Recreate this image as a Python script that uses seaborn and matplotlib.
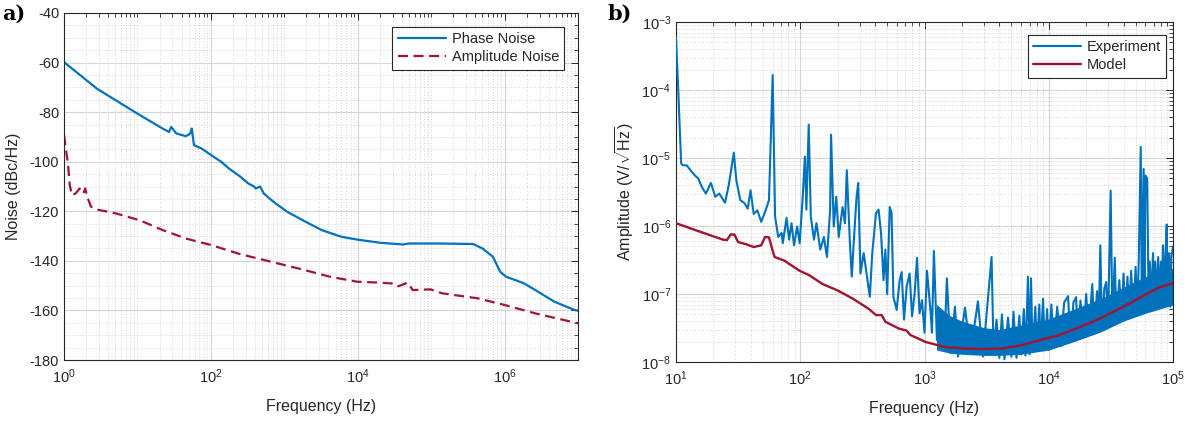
import numpy as np
import pandas as pd
import matplotlib
matplotlib.use("Agg")
import matplotlib.pyplot as plt
import seaborn as sns
from matplotlib.ticker import FixedLocator, LogLocator, MultipleLocator, FuncFormatter, NullFormatter

# ---------------- data ----------------
# Panel a) phase noise
phase_freq = [1, 2.8, 10, 22, 26.9, 28.8, 33.9, 45.7, 52.5, 55.0, 58.9, 75.0, 101.6, 138, 176, 251,
              324, 389, 407, 468, 525, 670, 759, 1096, 1778, 3236, 6026, 9772, 20180, 41690,
              50120, 125900, 371500, 501200, 691800, 871000, 1047000, 1820000, 2630000,
              4786000, 8913000, 10000000]
phase_db = [-59.8, -70.5, -80.6, -86.6, -88.0, -86.0, -88.6, -89.7, -88.6, -86.6, -93.3, -94.7,
            -97.4, -100.0, -102.7, -106.0, -108.8, -110.0, -110.8, -110.0, -112.8, -115.5, -116.8,
            -120.2, -123.6, -127.6, -130.3, -131.4, -132.7, -133.4, -133.0, -133.0, -133.2,
            -135.0, -138.3, -144.4, -146.4, -149.0, -151.8, -156.5, -159.8, -160.1]

# Panel a) amplitude noise
amp_freq = [1, 1.13, 1.2, 1.28, 1.44, 1.63, 1.84, 1.95, 2.07, 2.34, 2.81, 5.16, 10.7, 22.2, 45.7,
            100, 251, 670, 1778, 4169, 9772, 20180, 28840, 34670, 47860, 56230, 97720, 141300,
            426600, 1000000, 2630000, 10000000]
amp_db = [-89.3, -100.7, -109.5, -113.5, -112.8, -110.8, -112.8, -110.8, -114.2, -118.2, -119.3,
          -120.9, -123.6, -127.6, -131.0, -133.6, -137.3, -140.4, -143.5, -146.4, -148.4, -148.8,
          -149.1, -150.4, -148.8, -151.8, -151.5, -153.1, -155.1, -157.8, -161.2, -165.2]

# Panel b) experiment trace
exp_freq = [10, 10.4, 11.0, 11.35, 12.2, 13.1, 14.1, 15.1, 16.2, 17.4, 19.1, 20.7, 22.3, 24.8,
            26.6, 29.2, 30.6, 32.9, 35.3, 37.8, 39.8, 42.2, 45.2, 48.5, 52.1, 56.0, 60.0,
            62.7, 66.5, 70.8, 72.4, 77.6, 81.3, 85.1, 89.1, 94.4, 98.9, 104.7, 109, 112, 117,
            121.6, 129, 135, 145, 155, 164, 174, 177, 186, 195, 204, 219, 229, 237, 251, 260,
            269, 284, 293, 305, 324, 339, 363, 380, 407, 427, 447, 468, 484, 501, 525, 543,
            562, 597, 631, 655, 684, 719, 759, 794, 832, 871, 912, 955, 1000, 1047, 1122,
            1148, 1190, 1259, 1349, 1445, 1514, 1622, 1758, 1862, 2118, 2344, 2692, 2951,
            3467, 3600, 3800, 4000, 4200, 4400, 4700, 5000, 5200, 5500, 5800, 6000, 6300,
            6500, 6800, 7000, 7200, 7400, 7800, 8000, 8400, 8600, 9000, 9300, 9700, 10000,
            10500, 11000, 11700, 12500, 13300, 14300, 15000, 15800, 16600, 17200, 18000,
            19000, 20000, 21000, 22400, 23200, 24500, 25200, 26000, 26800, 28000, 29000,
            30000, 31500, 32500, 34000, 35000, 37000, 38500, 40000, 41500, 43000, 44500,
            46000, 48000, 50000, 51500, 53000, 55000, 56000, 58000, 59000, 60000, 62000,
            63500, 65000, 67000, 69000, 70500, 72000, 74000, 76000, 78000, 80000, 81500,
            83000, 85000, 87000, 89000, 90500, 93000, 95000, 97000, 100000]
exp_amp = [6.0e-4, 1.1e-4, 8.3e-6, 7.8e-6, 7.8e-6, 6.6e-6, 5.6e-6, 5.0e-6, 3.7e-6, 3.0e-6,
           4.3e-6, 2.7e-6, 3.0e-6, 2.2e-6, 4.0e-6, 1.2e-5, 4.7e-6, 2.4e-6, 2.2e-6, 1.8e-6,
           3.35e-6, 1.5e-6, 1.7e-6, 1.15e-6, 1.6e-6, 2.4e-6, 1.66e-4,
           1.38e-6, 6.9e-7, 7.9e-7, 5.6e-7, 1.32e-6, 6.3e-7, 1.1e-6, 5.2e-7, 9.8e-7, 5.6e-7,
           2.7e-6, 1.05e-5, 1.74e-6, 3.1e-5, 1.38e-6, 6.3e-7, 1.1e-6, 4.5e-7, 6.9e-7, 3.5e-7,
           1.74e-6, 2.2e-5, 9.8e-7, 2.7e-6, 6.9e-7, 1.9e-6, 1.1e-6, 6.6e-6, 5.6e-7, 1.8e-7,
           5.5e-7, 2.7e-6, 4.3e-6, 2.0e-7, 4.0e-7, 2.2e-7, 9.1e-8, 4.0e-7, 1.55e-6, 1.74e-6,
           7.8e-7, 1.6e-7, 4.5e-7, 1.0e-7, 1.9e-6, 1.55e-6, 9.1e-8, 5.8e-8, 1.6e-7, 2.1e-7,
           4.2e-8, 1.3e-7, 2.0e-7, 4.7e-8, 1.0e-7, 3.4e-7, 5.2e-8, 8.1e-8, 2.7e-8, 2.2e-7,
           5.2e-8, 2.7e-8, 4.3e-7, 2.1e-8, 4.7e-8, 1.7e-8, 1.7e-7, 1.35e-8, 6.5e-8, 1.2e-8,
           6.3e-8, 1.35e-8, 7.8e-8, 1.2e-8, 3.5e-7, 1.3e-8, 4.2e-8, 1.15e-8, 5.0e-8, 1.1e-8,
           4.5e-8, 1.2e-8, 5.5e-8, 1.15e-8, 4.8e-8, 1.3e-8, 6.0e-8, 1.25e-8, 1.8e-7, 1.3e-8,
           1.7e-7, 1.4e-8, 6.5e-8, 1.45e-8, 7.0e-8, 1.5e-8, 8.5e-8, 1.5e-8, 6.0e-8, 1.5e-8,
           7.0e-8, 1.6e-8, 6.5e-8, 1.7e-8, 7.5e-8, 9.3e-8, 2.0e-8, 7.5e-8, 9.0e-8, 2.2e-8,
           8.0e-8, 2.4e-8, 1.0e-7, 2.6e-8, 1.4e-7, 2.8e-8, 1.1e-7, 3.0e-8, 5.2e-7, 3.2e-8,
           1.2e-7, 1.5e-7, 3.5e-8, 3.3e-6, 3.8e-8, 3.4e-7, 4.0e-8, 1.6e-7, 4.2e-8, 2.0e-7,
           4.5e-8, 1.8e-7, 4.8e-8, 2.2e-7, 5.0e-8, 2.5e-7, 5.5e-8, 3.0e-7, 1.45e-5, 1.0e-7,
           6.9e-6, 1.5e-7, 5.5e-6, 5.0e-6, 1.0e-7, 3.0e-7, 8.0e-8, 4.0e-7, 7.0e-8, 3.0e-7,
           7.5e-8, 3.5e-7, 8.0e-8, 3.0e-7, 7.5e-8, 5.2e-7, 8.0e-8, 4.0e-7, 1.05e-6, 7.0e-8,
           4.0e-7, 6.5e-8, 3.5e-7, 5.0e-7]

# Panel b) dense noise band of the experiment (upper / lower envelope)
band_freq = [1250, 1600, 2000, 3000, 4000, 6000, 10000, 16000, 26000, 40000, 60000, 100000]
band_upper = [7.0e-8, 4.8e-8, 4.0e-8, 3.2e-8, 3.0e-8, 3.5e-8, 4.3e-8, 6.0e-8, 8.5e-8, 1.26e-7,
              1.8e-7, 2.4e-7]
band_lower = [1.5e-8, 1.35e-8, 1.3e-8, 1.25e-8, 1.25e-8, 1.3e-8, 1.5e-8, 2.0e-8, 2.75e-8,
              4.0e-8, 5.2e-8, 6.9e-8]

# Panel b) model
model_freq = [10, 14.6, 20.7, 23.9, 25.7, 27.5, 29.5, 31.6, 36.6, 42.2, 48.5, 52.1, 56.0, 59.2,
              62.2, 74.3, 98.6, 117.5, 151.4, 199.5, 266.1, 353.2, 407.4, 451.9, 485.3, 622.3,
              716.1, 769.1, 1021, 1455, 2075, 2951, 4217, 5998, 8531, 12190, 17380, 24770,
              35320, 46770, 57940, 76910, 100000]
model_amp = [1.1e-6, 8.6e-7, 6.9e-7, 6.3e-7, 6.2e-7, 7.5e-7, 7.5e-7, 5.8e-7, 5.4e-7, 4.9e-7,
             5.2e-7, 6.9e-7, 6.8e-7, 4.7e-7, 3.5e-7, 3.1e-7, 2.2e-7, 1.9e-7, 1.4e-7, 1.13e-7,
             8.5e-8, 6.1e-8, 4.9e-8, 4.9e-8, 3.9e-8, 3.1e-8, 2.9e-8, 2.5e-8, 1.97e-8, 1.66e-8,
             1.58e-8, 1.55e-8, 1.58e-8, 1.76e-8, 2.1e-8, 2.5e-8, 3.2e-8, 4.2e-8, 5.8e-8,
             7.6e-8, 9.5e-8, 1.24e-7, 1.45e-7]

a_xticks = [1, 1e2, 1e4, 1e6]
b_xticks = [1e1, 1e2, 1e3, 1e4, 1e5]
b_yticks = [1e-8, 1e-7, 1e-6, 1e-5, 1e-4, 1e-3]

# ---------------- styling ----------------
sns.set_theme(style="white")
plt.rcParams['font.family'] = ['Liberation Sans', 'DejaVu Sans']
plt.rcParams['mathtext.fontset'] = 'custom'
plt.rcParams['mathtext.rm'] = 'Liberation Sans'
plt.rcParams['mathtext.it'] = 'Liberation Sans:italic'
plt.rcParams['mathtext.bf'] = 'Liberation Sans:bold'
plt.rcParams['axes.unicode_minus'] = False

BLUE = '#0072BD'
RED = '#A2142F'
DARK = '#262626'

fig = plt.figure(figsize=(11.98, 4.26), dpi=100)
W, H = 1198.0, 426.0
ax1 = fig.add_axes([64 / W, (H - 360) / H, (578 - 64) / W, (360 - 13) / H])
ax2 = fig.add_axes([676 / W, (H - 362) / H, (1173 - 676) / W, (362 - 22) / H])

pw = pd.DataFrame({'f': phase_freq, 'v': phase_db})
aw = pd.DataFrame({'f': amp_freq, 'v': amp_db})
sns.lineplot(data=pw, x='f', y='v', ax=ax1, color=BLUE, linewidth=1.6, estimator=None,
             label='Phase Noise')
sns.lineplot(data=aw, x='f', y='v', ax=ax1, color=RED, linewidth=1.6, estimator=None,
             label='Amplitude Noise', linestyle=(0, (4.5, 2.5)))

ew = pd.DataFrame({'f': exp_freq, 'v': exp_amp})
mw = pd.DataFrame({'f': model_freq, 'v': model_amp})
ax2.fill_between(band_freq, band_lower, band_upper, color=BLUE, linewidth=0, zorder=2)
sns.lineplot(data=ew, x='f', y='v', ax=ax2, color=BLUE, linewidth=1.5, estimator=None,
             label='Experiment', zorder=3)
sns.lineplot(data=mw, x='f', y='v', ax=ax2, color=RED, linewidth=1.7, estimator=None,
             label='Model', zorder=4)


def logfmt(v, p):
    return r"$10^{%d}$" % int(round(np.log10(v)))


for ax in (ax1, ax2):
    ax.set_xscale('log')
    ax.xaxis.set_minor_locator(LogLocator(base=10, subs=np.arange(1, 10), numticks=100))
    ax.xaxis.set_minor_formatter(NullFormatter())
    ax.grid(True, which='major', color='#d6d6d6', linewidth=0.8, linestyle='-')
    ax.grid(True, which='minor', color='#bdbdbd', linewidth=0.55, linestyle=(0, (1, 2.5)))
    ax.set_axisbelow(True)
    ax.tick_params(which='both', direction='in', top=True, right=True, colors=DARK,
                   labelsize=10.5, labelcolor=DARK)
    ax.tick_params(which='major', length=5, width=0.7)
    ax.tick_params(which='minor', length=2.8, width=0.6)
    ax.tick_params(axis='x', which='major', pad=5.5)
    for s in ax.spines.values():
        s.set_color(DARK)
        s.set_linewidth(0.8)
    ax.set_xlabel('Frequency (Hz)', fontsize=11.5, color=DARK, labelpad=9)

ax1.set_xlim(1, 1e7)
ax1.set_ylim(-180, -40)
ax1.xaxis.set_major_locator(FixedLocator(a_xticks))
ax1.xaxis.set_major_formatter(FuncFormatter(logfmt))
ax1.yaxis.set_major_locator(MultipleLocator(20))
ax1.yaxis.set_minor_locator(MultipleLocator(5))
ax1.set_ylabel('Noise (dBc/Hz)', fontsize=11.5, color=DARK, labelpad=6)

ax2.set_yscale('log')
ax2.set_xlim(10, 1e5)
ax2.set_ylim(1e-8, 1e-3)
ax2.xaxis.set_major_locator(FixedLocator(b_xticks))
ax2.xaxis.set_major_formatter(FuncFormatter(logfmt))
ax2.yaxis.set_major_locator(FixedLocator(b_yticks))
ax2.yaxis.set_major_formatter(FuncFormatter(logfmt))
ax2.yaxis.set_minor_locator(LogLocator(base=10, subs=np.arange(1, 10), numticks=100))
ax2.yaxis.set_minor_formatter(NullFormatter())
ax2.set_ylabel(r'Amplitude (V/$\sqrt{\mathrm{Hz}}$)', fontsize=11.5, color=DARK, labelpad=4)

legkw = dict(loc='upper right', frameon=True, fancybox=False, framealpha=1,
             edgecolor=DARK, fontsize=10.5, handlelength=3.3, handletextpad=0.4,
             borderpad=0.35, labelspacing=0.3, borderaxespad=0)
anchors = {ax1: (1 - 14 / 514, 1 - 14 / 347), ax2: (1 - 7 / 497, 1 - 13 / 340)}
for ax in (ax1, ax2):
    leg = ax.legend(bbox_to_anchor=anchors[ax], **legkw)
    leg.get_frame().set_linewidth(0.8)
    for t in leg.get_texts():
        t.set_color(DARK)

fig.text(2 / W, 1 - 14 / H, 'a)', fontsize=15, fontweight='bold', family='DejaVu Serif',
         va='center', ha='left', color='black')
fig.text(608 / W, 1 - 14 / H, 'b)', fontsize=15, fontweight='bold', family='DejaVu Serif',
         va='center', ha='left', color='black')

fig.savefig('out.png', dpi=100)
